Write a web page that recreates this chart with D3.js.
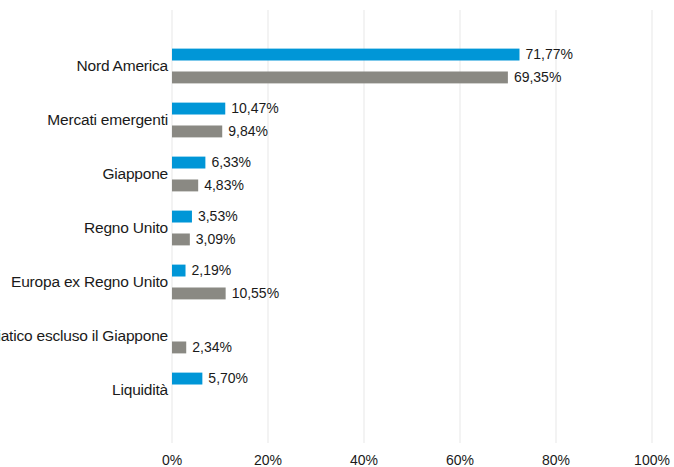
<!DOCTYPE html>
<html>
<head>
<meta charset="utf-8">
<script src="https://cdn.jsdelivr.net/npm/d3@7"></script>
<style>
  body { margin: 0; background: #fff; }
  svg { display: block; }
</style>
</head>
<body>
<svg id="chart"></svg>
<script>
const categories = ["Nord America", "Mercati emergenti", "Giappone", "Regno Unito",
  "Europa ex Regno Unito", "Pacifico asiatico escluso il Giappone", "Liquidità"];
const seriesNames = ["Fondo", "Indice"];
const fondo = [71.77, 10.47, 6.33, 3.53, 2.19, null, 5.70];
const indice = [69.35, 9.84, 4.83, 3.09, 10.55, 2.34, null];
const ticks = [0, 20, 40, 60, 80, 100];

const W = 674, H = 467;
const svg = d3.select("#chart").attr("width", W).attr("height", H);
const font = "'Liberation Sans', Arial, sans-serif";

const x = d3.scaleLinear().domain([0, 100]).range([172, 652]);
const y = d3.scaleBand().domain(categories).range([12, 444]).paddingOuter(0.5);
const ySub = d3.scaleBand().domain(seriesNames).range([0, y.step()])
  .paddingInner(0.48).paddingOuter(0.42);
const color = d3.scaleOrdinal().domain(seriesNames).range(["#0096d7", "#8a8983"]);

// grid
svg.append("g").selectAll("line").data(ticks).enter().append("line")
  .attr("x1", d => x(d)).attr("x2", d => x(d))
  .attr("y1", 10).attr("y2", 443)
  .attr("stroke", "#efefef").attr("stroke-width", 1.5);

// x axis labels
svg.append("g").selectAll("text").data(ticks).enter().append("text")
  .attr("x", d => x(d)).attr("y", 465)
  .attr("text-anchor", "middle")
  .attr("font-family", font).attr("font-size", 14).attr("fill", "#1a1a1a")
  .text(d => d + "%");

// category labels
svg.append("g").selectAll("text").data(categories).enter().append("text")
  .attr("x", 168).attr("y", d => y(d) + y.step() / 2)
  .attr("dy", "0.35em")
  .attr("text-anchor", "end")
  .attr("font-family", font).attr("font-size", 15.5).attr("letter-spacing", -0.2)
  .attr("fill", "#1a1a1a")
  .text(d => d);

const rows = [];
categories.forEach((c, i) => {
  if (fondo[i] != null) rows.push({cat: c, s: seriesNames[0], v: fondo[i]});
  if (indice[i] != null) rows.push({cat: c, s: seriesNames[1], v: indice[i]});
});

const fmt = v => v.toFixed(2).replace(".", ",") + "%";

const g = svg.append("g");
g.selectAll("rect").data(rows).enter().append("rect")
  .attr("x", x(0))
  .attr("y", d => y(d.cat) + ySub(d.s))
  .attr("width", d => x(d.v) - x(0) + 3)
  .attr("height", ySub.bandwidth())
  .attr("fill", d => color(d.s));

g.selectAll("text").data(rows).enter().append("text")
  .attr("x", d => x(d.v) + 9)
  .attr("y", d => y(d.cat) + ySub(d.s) + ySub.bandwidth() / 2)
  .attr("dy", "0.35em")
  .attr("font-family", font).attr("font-size", 14).attr("fill", "#1a1a1a")
  .text(d => fmt(d.v));
</script>
</body>
</html>
